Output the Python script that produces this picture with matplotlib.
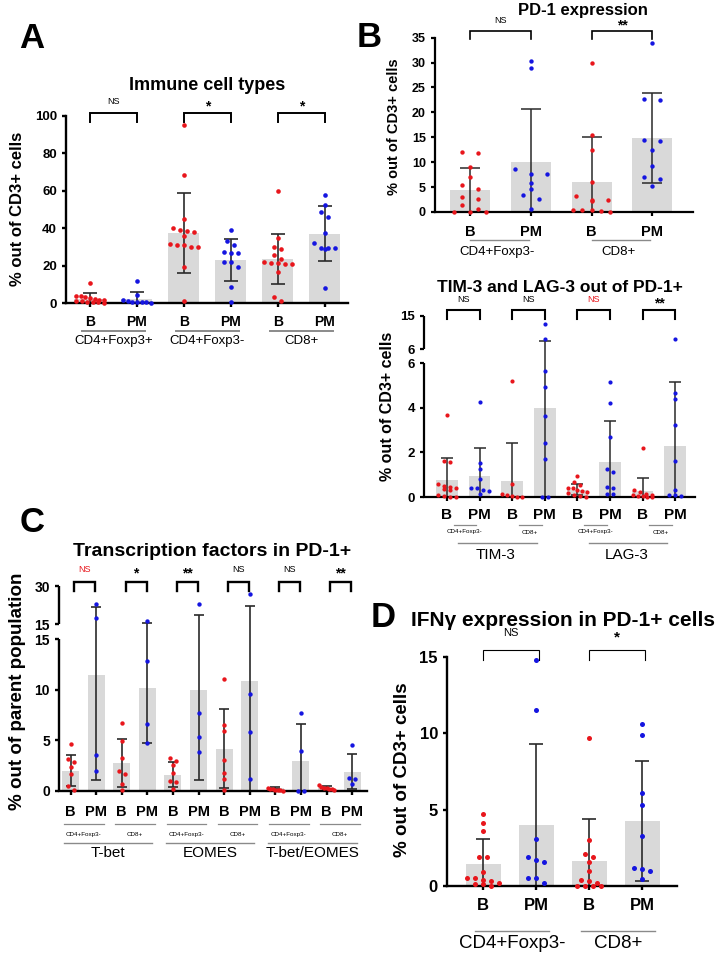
import numpy as np
import matplotlib
matplotlib.use('Agg')
import matplotlib.pyplot as plt

plt.rcParams['font.family'] = ['Liberation Sans', 'DejaVu Sans']

W, H = 726, 957
RED = '#e8161c'
BLUE = '#1515e0'
BAR = '#d9d9d9'
ERR = '#2a2a2a'

# ---------------- data ----------------
# A - immune cell types
a_groups = ['CD4+Foxp3+', 'CD4+Foxp3-', 'CD8+']
a_ticks = ['B', 'PM'] * 3
a_mean = [2.0, 2.2, 37.5, 23.0, 23.5, 37.0]
a_sd = [3.2, 3.5, 21.2, 11.3, 13.5, 14.7]
a_pts = [
    [10.5, 4, 3.5, 3, 2.5, 2, 1.5, 1.5, 1, 1, 0.5, 0.5, 0.3, 0.2],
    [11.5, 4.5, 1.5, 1, 0.8, 0.5, 0.5, 0.3, 0.2],
    [95, 68.5, 45, 40, 39, 38.5, 38, 36, 31.5, 31, 31, 30, 30, 19.5, 1],
    [39, 33, 31, 27.5, 27, 26.5, 22, 22, 19.5, 8.5, 0.8],
    [60, 34.5, 30, 29, 25.5, 23.5, 22, 21.5, 21.5, 21, 21, 16.5, 3, 1],
    [57.5, 52.5, 48.5, 46, 37.5, 32, 29.5, 29.5, 29.5, 29, 8],
]
a_sig = ['NS', '*', '*']

# B (top) - PD-1 expression
b1_groups = ['CD4+Foxp3-', 'CD8+']
b1_ticks = ['B', 'PM'] * 2
b1_mean = [4.4, 10.0, 6.1, 14.8]
b1_sd = [4.4, 10.7, 9.0, 9.0]
b1_pts = [
    [12, 11.8, 9, 7, 5.5, 4.7, 3, 2.6, 1.4, 0.7, 0.1, 0.1, 0.1],
    [30.3, 29, 8.6, 7.6, 7.6, 5.9, 4.6, 3.5, 2.6, 0.6],
    [29.9, 15.5, 12.5, 6.1, 3.3, 2.5, 2.5, 2.2, 0.4, 0.4, 0.4, 0.2, 0.1],
    [34, 22.6, 22.5, 14.4, 14.3, 12.5, 9.3, 7.1, 6.6, 5.3],
]
b1_sig = ['NS', '**']

# B (bottom) - TIM-3 and LAG-3 out of PD-1+
b2_markers = ['TIM-3', 'LAG-3']
b2_groups = ['CD4+Foxp3-', 'CD8+'] * 2
b2_ticks = ['B', 'PM'] * 4
b2_mean = [0.75, 0.95, 0.72, 4.0, 0.33, 1.56, 0.27, 2.3]
b2_sd = [1.0, 1.25, 1.72, 4.34, 0.24, 1.86, 0.58, 2.87]
b2_pts = [
    [3.7, 1.6, 1.55, 0.6, 0.5, 0.45, 0.4, 0.35, 0.3, 0.1, 0.05, 0.0, 0.0],
    [4.27, 1.53, 1.27, 0.82, 0.42, 0.42, 0.33, 0.27, 0.12],
    [5.22, 0.57, 0.15, 0.07, 0.03, 0.0, 0.0],
    [12.8, 8.7, 5.67, 4.95, 3.64, 2.43, 1.72, 0.0, 0.0],
    [0.93, 0.67, 0.52, 0.42, 0.4, 0.33, 0.27, 0.22, 0.18, 0.1, 0.05, 0.0],
    [5.17, 4.24, 2.7, 1.27, 1.12, 0.45, 0.42, 0.12, 0.12],
    [2.2, 0.3, 0.22, 0.15, 0.1, 0.08, 0.06, 0.03, 0.0, 0.0],
    [8.7, 4.68, 4.38, 3.25, 1.6, 0.33, 0.1, 0.07, 0.03],
]
b2_sig = ['NS', 'NS', 'NS', '**']
b2_sig_col = ['black', 'black', RED, 'black']

# C - transcription factors in PD-1+
c_markers = ['T-bet', 'EOMES', 'T-bet/EOMES']
c_groups = ['CD4+Foxp3-', 'CD8+'] * 3
c_ticks = ['B', 'PM'] * 6
c_mean = [2.0, 11.5, 2.73, 10.16, 1.57, 9.93, 4.17, 10.9, 0.23, 2.9, 0.3, 1.9]
c_sd = [1.55, 10.47, 2.4, 5.4, 1.23, 8.87, 3.9, 11.4, 0.1, 3.73, 0.15, 1.77]
c_pts = [
    [4.6, 3.1, 2.8, 2.3, 1.7, 0.5, 0.1],
    [23.1, 17.5, 3.5, 2.0],
    [6.7, 4.9, 3.2, 2.0, 1.7, 0.7, 0.1],
    [16.3, 12.8, 6.6, 4.7],
    [3.2, 2.9, 2.5, 1.8, 1.0, 0.9, 0.2],
    [23.1, 7.7, 5.3, 3.8],
    [11.1, 6.5, 5.9, 3.0, 1.8, 1.2, 0.1],
    [27.0, 9.6, 5.8, 1.2],
    [0.25, 0.2, 0.15, 0.1, 0.1, 0.05, 0.0],
    [7.7, 3.9, 0.0, 0.0],
    [0.55, 0.35, 0.3, 0.25, 0.2, 0.15, 0.1],
    [4.5, 1.25, 1.2, 0.65],
]
c_sig = ['NS', '*', '**', 'NS', 'NS', '**']
c_sig_col = [RED] + ['black'] * 5

# D - IFNg expression in PD-1+ cells
d_groups = ['CD4+Foxp3-', 'CD8+']
d_ticks = ['B', 'PM'] * 2
d_mean = [1.44, 3.97, 1.61, 4.27]
d_sd = [1.66, 5.35, 2.75, 3.93]
d_pts = [
    [4.7, 4.1, 3.6, 1.9, 1.9, 0.9, 0.5, 0.5, 0.4, 0.3, 0.2, 0.1, 0.1, 0.0],
    [14.8, 11.5, 3.1, 1.9, 1.7, 1.6, 0.5, 0.5, 0.2],
    [9.65, 3.0, 2.1, 1.9, 1.55, 1.0, 0.4, 0.3, 0.2, 0.0, 0.0, 0.0, 0.0],
    [10.6, 9.9, 6.1, 5.3, 3.3, 1.15, 1.1, 1.0, 0.45],
]
d_sig = ['NS', '*']

# broken axis scales
B2_CUT, B2_GAP, B2_K, B2_TOP = 6, 0.63, 1 / 6, 15
C_CUT, C_GAP, C_K, C_TOP = 15, 1.48, 0.253, 30


def brk_b(v):
    return v if v <= B2_CUT else B2_CUT + B2_GAP + (v - B2_CUT) * B2_K


def brk_c(v):
    return v if v <= C_CUT else C_CUT + C_GAP + (v - C_CUT) * C_K


fig = plt.figure(figsize=(W / 100, H / 100), dpi=100)


def px_axes(l, t, r, b):
    return fig.add_axes([l / W, 1 - b / H, (r - l) / W, (b - t) / H])


def style(ax, lw=1.6):
    for s in ['top', 'right']:
        ax.spines[s].set_visible(False)
    for s in ['left', 'bottom']:
        ax.spines[s].set_linewidth(lw)
    ax.tick_params(direction='out', length=3, width=lw)


def spread(ypx, xpx, rx=7.0, ry=6.0, maxw=0.3):
    # Prism-like scatter: values that fall in the same band of ry pixels are
    # laid out side by side, centred on the bar
    ypx = np.asarray(ypx, dtype=float)
    order = np.argsort(-ypx, kind='stable')
    res = np.zeros(len(ypx))
    rows, cur = [], [order[0]]
    for i in order[1:]:
        if ypx[cur[0]] - ypx[i] < ry:
            cur.append(i)
        else:
            rows.append(cur)
            cur = [i]
    rows.append(cur)
    limit = maxw * xpx
    for row in rows:
        n = len(row)
        gap = rx if (n - 1) * rx <= 2 * limit else 2 * limit / (n - 1)
        for k, i in enumerate(row):
            res[i] = (k - (n - 1) / 2) * gap / xpx
    return res


def draw_bars(ax, means, sds, pts, f, ypx, xpx, dot_s=10, capsize=4, elw=1.1, rx=7.0, ry=6.0):
    pos = np.arange(len(means))
    mid = np.array([f(m) for m in means])
    lo = np.array([f(max(m - s, 0)) for m, s in zip(means, sds)])
    hi = np.array([f(m + s) for m, s in zip(means, sds)])
    ax.bar(pos, mid, width=0.66, color=BAR, zorder=1)
    ax.errorbar(pos, mid, yerr=[mid - lo, hi - mid], fmt='none', ecolor=ERR,
                elinewidth=elw, capsize=capsize, capthick=elw, zorder=2)
    for i, vals in enumerate(pts):
        ty = np.array([f(v) for v in vals])
        dx = spread(ty * ypx, xpx, rx=rx, ry=ry)
        ax.scatter(pos[i] + dx, ty, s=dot_s, color=RED if i % 2 == 0 else BLUE,
                   linewidths=0, zorder=3, clip_on=False)
    return pos


def broken_spine(ax, segs, lw=1.6):
    ax.spines['left'].set_visible(False)
    for y0, y1 in segs:
        ax.plot([0, 0], [y0, y1], transform=ax.get_yaxis_transform(), color='black',
                lw=lw, clip_on=False, solid_capstyle='butt')


def brackets(ax, pairs, labels, top, leg, txt, lw, fs_ns=6.5, fs_star=10, colors=None):
    h = ax.bbox.height
    tr = ax.get_xaxis_transform()
    yt, yl = 1 + top / h, 1 + leg / h
    for k, ((x0, x1), lab) in enumerate(zip(pairs, labels)):
        ax.plot([x0, x0, x1, x1], [yl, yt, yt, yl], transform=tr, color='black', lw=lw,
                clip_on=False, solid_joinstyle='miter')
        star = lab != 'NS'
        fs = fs_star if star else fs_ns
        ytx = 1 + (txt - (0.3 * fs * 1.389 if star else 0)) / h
        ax.text((x0 + x1) / 2, ytx, lab, transform=tr, ha='center', va='center',
                fontsize=fs, fontweight='bold' if star else 'normal',
                color=colors[k] if colors else 'black')


def group_lines(ax, spans, dy, lw=1.2, color='#8a8a8a'):
    y = -dy / ax.bbox.height
    for x0, x1 in spans:
        ax.plot([x0, x1], [y, y], transform=ax.get_xaxis_transform(), color=color,
                lw=lw, clip_on=False)


def group_texts(ax, xs, labels, dy, fs):
    y = -dy / ax.bbox.height
    for x, s in zip(xs, labels):
        ax.text(x, y, s, transform=ax.get_xaxis_transform(), ha='center', va='center',
                fontsize=fs)


def title(ax, s, xf, dy, fs):
    ax.text(xf, 1 + dy / ax.bbox.height, s, transform=ax.transAxes, ha='center',
            va='center', fontsize=fs, fontweight='bold')


def ylabel(s, x, y, fs):
    fig.text(x / W, 1 - y / H, s, rotation=90, ha='center', va='center',
             fontsize=fs, fontweight='bold')


def letter(s, x, y):
    fig.text(x / W, 1 - y / H, s, ha='center', va='baseline', fontsize=25,
             fontweight='bold')


# ---------------- panel A ----------------
axA = px_axes(66, 116, 348, 303)
style(axA, 1.7)
posA = draw_bars(axA, a_mean, a_sd, a_pts, lambda v: v, 1.87, 47, dot_s=11, capsize=5, elw=1.2,
                 rx=7.0, ry=5.0)
axA.set_xlim(-0.51, 5.49)
axA.set_ylim(0, 100)
axA.set_yticks(np.arange(0, 101, 20), [str(v) for v in range(0, 101, 20)],
               fontweight='bold', fontsize=9.5)
axA.set_xticks(posA, a_ticks, fontweight='bold', fontsize=10)
axA.tick_params(axis='x', pad=6)
brackets(axA, [(p, p + 1) for p in posA[::2]], a_sig, 3, -6, 14, 1.4)
group_lines(axA, [(p - 0.18, p + 1.18) for p in posA[::2]], 28, 1.4)
group_texts(axA, posA[::2] + 0.5, a_groups, 38, 9.5)
title(axA, 'Immune cell types', 0.5, 30, 13)
ylabel('% out of CD3+ cells', 17.5, 209, 12)
letter('A', 32, 48)

# ---------------- panel B top ----------------
axB1 = px_axes(435, 37.7, 693, 212)
style(axB1, 1.6)
posB1 = draw_bars(axB1, b1_mean, b1_sd, b1_pts, lambda v: v, 4.98, 60.7, dot_s=10, capsize=7, elw=1.1,
                  rx=16.0, ry=5.0)
axB1.set_xlim(-0.577, 3.67)
axB1.set_ylim(0, 35)
axB1.set_yticks(np.arange(0, 36, 5), [str(v) for v in range(0, 36, 5)],
                fontweight='bold', fontsize=9)
axB1.set_xticks(posB1, b1_ticks, fontweight='bold', fontsize=10.5)
axB1.tick_params(axis='x', pad=6)
brackets(axB1, [(p, p + 1) for p in posB1[::2]], b1_sig, 6.7, -1.3, 16.7, 1.2)
group_lines(axB1, [(p, p + 0.97) for p in posB1[::2]], 28, 1.0)
group_texts(axB1, posB1[::2] + 0.45, b1_groups, 40, 9.5)
title(axB1, 'PD-1 expression', 0.574, 27.7, 12)
ylabel('% out of CD3+ cells', 394, 127, 10.5)
letter('B', 369, 47)

# ---------------- panel B bottom (broken axis) ----------------
axB2 = px_axes(424, 316, 695, 497)
style(axB2, 1.6)
posB2 = draw_bars(axB2, b2_mean, b2_sd, b2_pts, brk_b, 22.2, 32.6, dot_s=9, capsize=4, elw=1.1,
                  rx=6.0, ry=4.5)
axB2.set_xlim(-0.705, 7.607)
axB2.set_ylim(0, brk_b(B2_TOP))
broken_spine(axB2, [(0, B2_CUT), (B2_CUT + B2_GAP, brk_b(B2_TOP))], 1.6)
axB2.set_yticks([0, 2, 4, 6, B2_CUT + B2_GAP, brk_b(B2_TOP)],
                ['0', '2', '4', '6', '6', '15'], fontweight='bold', fontsize=9.5)
axB2.set_xticks(posB2, b2_ticks, fontweight='bold', fontsize=11)
axB2.tick_params(axis='x', pad=5)
brackets(axB2, [(p, p + 1) for p in posB2[::2]], b2_sig, 6, -3, 17, 1.5, colors=b2_sig_col)
group_lines(axB2, [(p + 0.2, p + 0.9) for p in posB2[::2]], 28, 0.9)
group_texts(axB2, posB2[::2] + 0.55, b2_groups, 35, 4.5)
group_lines(axB2, [(p + 0.35, p + 2.75) for p in posB2[::4]], 46, 1.0)
group_texts(axB2, posB2[::4] + 1.5, b2_markers, 58, 11)
title(axB2, 'TIM-3 and LAG-3 out of PD-1+', 0.502, 28, 12.5)
ylabel('% out of CD3+ cells', 387, 406, 11.5)

# ---------------- panel C (broken axis) ----------------
axC = px_axes(59, 586, 367, 790.7)
style(axC, 1.7)
posC = draw_bars(axC, c_mean, c_sd, c_pts, brk_c, 10.1, 25.6, dot_s=10, capsize=3.5, elw=1.2,
                 rx=6.0, ry=5.0)
axC.set_xlim(-0.45, 11.58)
axC.set_ylim(0, brk_c(C_TOP))
broken_spine(axC, [(0, C_CUT), (C_CUT + C_GAP, brk_c(C_TOP))], 1.7)
axC.set_yticks([0, 5, 10, 15, C_CUT + C_GAP, brk_c(C_TOP)],
               ['0', '5', '10', '15', '15', '30'], fontweight='bold', fontsize=10)
axC.set_xticks(posC, c_ticks, fontweight='bold', fontsize=10.5)
axC.tick_params(axis='x', pad=7)
brackets(axC, [(p + 0.15, p + 0.97) for p in posC[::2]], c_sig, 4, -5, 17, 1.7, colors=c_sig_col)
group_lines(axC, [(p - 0.25, p + 1.3) for p in posC[::2]], 33, 0.9)
group_texts(axC, posC[::2] + 0.52, c_groups, 44, 4.5)
group_lines(axC, [(p - 0.27, p + 3.17) for p in posC[::4]], 52, 1.0)
group_texts(axC, posC[::4] + 1.45, c_markers, 62, 11)
title(axC, 'Transcription factors in PD-1+', 0.497, 34, 14)
ylabel('% out of parent population', 18, 691, 13.5)
letter('C', 32, 532)

# ---------------- panel D ----------------
axD = px_axes(447, 656.7, 677, 886)
style(axD, 1.7)
posD = draw_bars(axD, d_mean, d_sd, d_pts, lambda v: v, 15.29, 53, dot_s=13, capsize=5, elw=1.2,
                 rx=8.0, ry=6.0)
axD.set_xlim(-0.68, 3.66)
axD.set_ylim(0, 15)
axD.set_yticks([0, 5, 10, 15], ['0', '5', '10', '15'], fontweight='bold', fontsize=12)
axD.set_xticks(posD, d_ticks, fontweight='bold', fontsize=12)
axD.tick_params(axis='x', pad=6)
brackets(axD, [(p, p + 1.05) for p in posD[::2]], d_sig, 6.7, -3.3, 23.7, 0.8, fs_ns=8, fs_star=11)
group_lines(axD, [(p - 0.15, p + 1.24) for p in posD[::2]], 45, 1.0)
group_texts(axD, posD[::2] + 0.55, d_groups, 57, 13.5)
title(axD, 'IFNγ expression in PD-1+ cells', 0.504, 36.7, 15)
ylabel('% out of CD3+ cells', 402, 770, 13.5)
letter('D', 383, 627)

fig.savefig('out.png', dpi=100)
